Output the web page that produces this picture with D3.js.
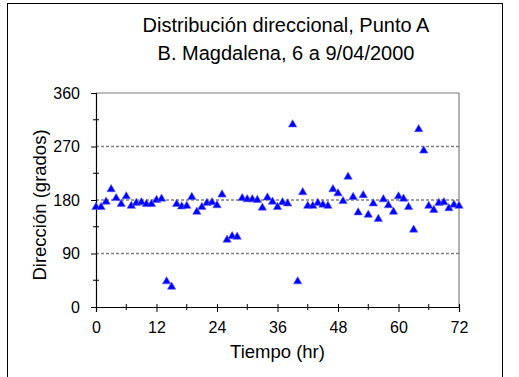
<!DOCTYPE html>
<html>
<head>
<meta charset="utf-8">
<script src="https://cdn.jsdelivr.net/npm/d3@7"></script>
<style>
  body { margin: 0; background: #fff; }
  svg { display: block; font-family: "Liberation Sans", Arial, sans-serif; }
</style>
</head>
<body>
<div id="chart"></div>
<script>
// hours 0..72, wind direction in degrees
const hours = d3.range(0, 73);
const direction = [
  168, 168, 177, 198, 183, 173, 186, 170, 175, 176,
  173, 173, 180, 182, 43, 34, 173, 169, 170, 185,
  160, 168, 175, 176, 171, 189, 113, 119, 118, 183,
  181, 181, 180, 167, 184, 177, 168, 176, 174, 307,
  43, 193, 170, 170, 175, 172, 170, 198, 191, 178,
  219, 185, 159, 188, 155, 174, 148, 181, 171, 160,
  186, 182, 168, 130, 299, 263, 170, 163, 175, 176,
  166, 172, 170
];
const xMajor = [0, 12, 24, 36, 48, 60, 72];
const xMinor = [6, 18, 30, 42, 54, 66];
const yMajor = [0, 90, 180, 270, 360];
const yMinor = [45, 135, 225, 315];
const gridValues = [90, 180, 270];
const titleLines = ["Distribución direccional, Punto A", "B. Magdalena, 6 a 9/04/2000"];

const width = 519, height = 377;

const svg = d3.select("#chart").append("svg")
    .attr("width", width)
    .attr("height", height);

// outer chart frame
svg.append("rect")
    .attr("x", 7.5).attr("y", 3.5)
    .attr("width", 495).attr("height", 390)
    .attr("fill", "none")
    .attr("stroke", "#000")
    .attr("stroke-width", 1);

const x = d3.scaleLinear().domain([0, 72]).range([96, 459]);
const y = d3.scaleLinear().domain([0, 360]).range([307, 93]);

// plot area top/right border
svg.append("path")
    .attr("d", `M${x(0)},${y(360)}H${x(72)}V${y(0)}`)
    .attr("fill", "none")
    .attr("stroke", "#808080")
    .attr("stroke-width", 1.2);

// dashed gridlines
svg.append("g")
    .selectAll("line")
    .data(gridValues)
    .join("line")
    .attr("x1", x(0)).attr("x2", x(72))
    .attr("y1", d => y(d)).attr("y2", d => y(d))
    .attr("stroke", "#808080")
    .attr("stroke-width", 1.3)
    .attr("stroke-dasharray", "3,2");

// y axis
const yAxis = svg.append("g")
    .attr("transform", `translate(${x(0)},0)`)
    .call(d3.axisLeft(y).tickValues(yMajor).tickSize(5).tickPadding(11).tickFormat(d3.format("d")));
yAxis.select(".domain").attr("stroke", "#000").attr("stroke-width", 1.2);
yAxis.selectAll(".tick line").attr("stroke", "#000");
yAxis.selectAll(".tick text")
    .attr("font-size", 16)
    .attr("font-family", "Liberation Sans, Arial, sans-serif")
    .attr("fill", "#000");

svg.append("g")
    .selectAll("line")
    .data(yMinor)
    .join("line")
    .attr("x1", x(0) - 3).attr("x2", x(0) + 3)
    .attr("y1", d => y(d)).attr("y2", d => y(d))
    .attr("stroke", "#000");

// x axis
const xAxis = svg.append("g")
    .attr("transform", `translate(0,${y(0)})`)
    .call(d3.axisBottom(x).tickValues(xMajor).tickSize(5).tickPadding(10));
xAxis.select(".domain").attr("stroke", "#000").attr("stroke-width", 1.2);
xAxis.selectAll(".tick line").attr("stroke", "#000").attr("y1", -3);
xAxis.selectAll(".tick text")
    .attr("font-size", 16)
    .attr("font-family", "Liberation Sans, Arial, sans-serif")
    .attr("fill", "#000");

svg.append("g")
    .selectAll("line")
    .data(xMinor)
    .join("line")
    .attr("x1", d => x(d)).attr("x2", d => x(d))
    .attr("y1", y(0) - 3).attr("y2", y(0) + 3)
    .attr("stroke", "#000");

// points
svg.append("g")
    .attr("fill", "#0000ff")
    .attr("stroke", "#5a5aff")
    .attr("stroke-width", 0.6)
    .selectAll("path")
    .data(hours)
    .join("path")
    .attr("d", d3.symbol(d3.symbolTriangle, 30))
    .attr("transform", (d, i) => `translate(${x(d)},${y(direction[i])})`);

// title
svg.append("g")
    .selectAll("text")
    .data(titleLines)
    .join("text")
    .attr("x", 286)
    .attr("y", (d, i) => 32 + i * 28)
    .attr("text-anchor", "middle")
    .attr("font-size", 20)
    .attr("fill", "#000")
    .text(d => d);

// axis titles
svg.append("text")
    .attr("x", (x(0) + x(72)) / 2)
    .attr("y", 358)
    .attr("text-anchor", "middle")
    .attr("font-size", 18.5)
    .text("Tiempo (hr)");

svg.append("text")
    .attr("transform", `translate(46,${(y(0) + y(360)) / 2 + 5}) rotate(-90)`)
    .attr("text-anchor", "middle")
    .attr("font-size", 18.5)
    .text("Dirección (grados)");
</script>
</body>
</html>
